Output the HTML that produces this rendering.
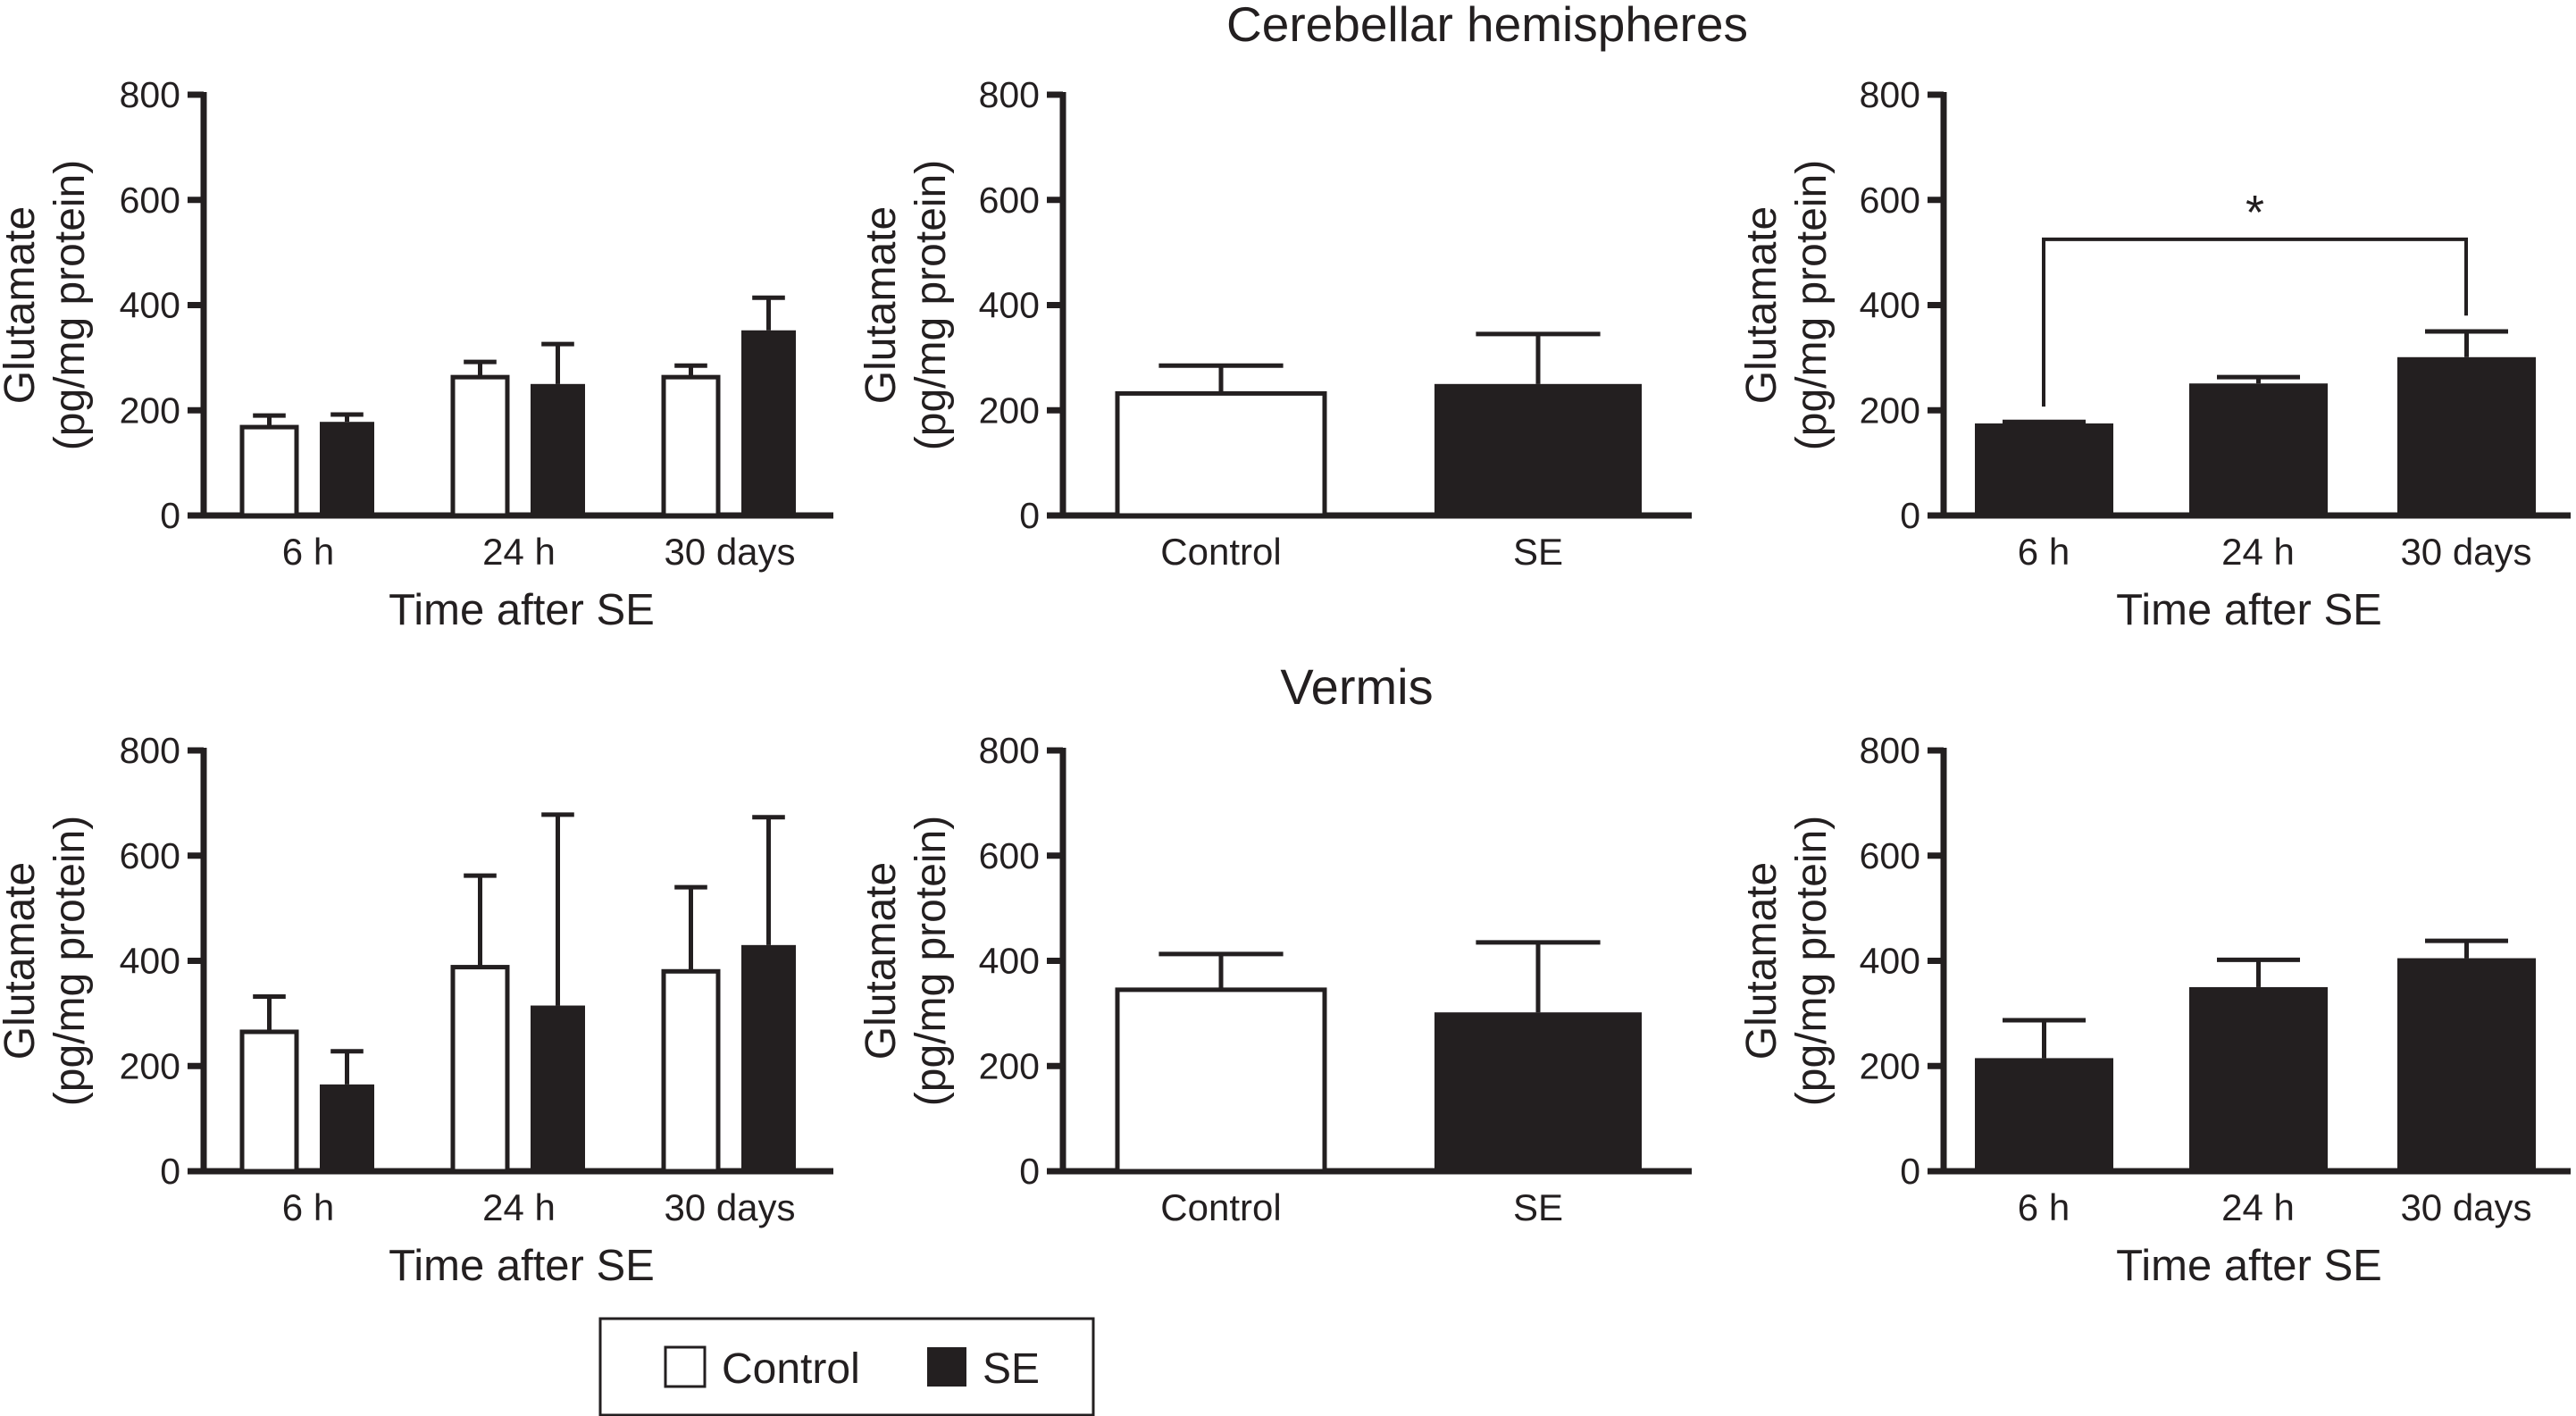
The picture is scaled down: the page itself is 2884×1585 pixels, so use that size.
<!DOCTYPE html>
<html><head><meta charset="utf-8"><style>
html,body{margin:0;padding:0;background:#fff;}
svg{display:block;}
text{fill:#231f20;}
</style></head><body>
<svg id="c" width="2884" height="1585" viewBox="0 0 2884 1585" xmlns="http://www.w3.org/2000/svg">
<text x="1665" y="46" font-family="Liberation Sans, sans-serif" font-size="55" text-anchor="middle">Cerebellar hemispheres</text>
<text x="1519" y="788" font-family="Liberation Sans, sans-serif" font-size="56" text-anchor="middle">Vermis</text>
<g>
<rect x="672" y="1476" width="552" height="108" fill="none" stroke="#231f20" stroke-width="3"/>
<rect x="745" y="1508" width="44" height="44" fill="#fff" stroke="#231f20" stroke-width="3"/>
<text x="808" y="1548" font-family="Liberation Sans, sans-serif" font-size="48">Control</text>
<rect x="1038" y="1508" width="44" height="44" fill="#231f20"/>
<text x="1100" y="1548" font-family="Liberation Sans, sans-serif" font-size="48">SE</text>
</g>
</svg>
<script>
const yTicks = [0, 200, 400, 600, 800];
const timeCats = ["6 h", "24 h", "30 days"];
const groupCats = ["Control", "SE"];
// Top row
const hemiTimeControl = [168, 263, 263];
const hemiTimeControlErr = [190, 292, 285];
const hemiTimeSE = [178, 250, 352];
const hemiTimeSEErr = [192, 326, 414];
const hemiGroupVals = [232, 250];
const hemiGroupErr = [285, 345];
const hemiPooled = [175, 251, 301];
const hemiPooledErr = [178, 263, 350];
// Bottom row
const vermTimeControl = [265, 388, 380];
const vermTimeControlErr = [332, 562, 540];
const vermTimeSE = [165, 315, 430];
const vermTimeSEErr = [228, 678, 673];
const vermGroupVals = [345, 302];
const vermGroupErr = [413, 435];
const vermPooled = [215, 350, 405];
const vermPooledErr = [287, 402, 438];
// significance bracket (top right): from 6 h to 30 days
const sigLevel = 525, sigLeftEnd = 207, sigRightEnd = 380;

const svg = document.getElementById('c');
const NS = 'http://www.w3.org/2000/svg';
const INK = '#231f20';
function mk(tag, attrs, parent) {
  const e = document.createElementNS(NS, tag);
  for (const k in attrs) e.setAttribute(k, attrs[k]);
  (parent || svg).appendChild(e);
  return e;
}
function panel(name, ax, x1, y0, yTop, labelX) {
  const g = mk('g', {});
  
  
  const yScale = v => y0 - (v / 800) * (y0 - yTop);
  const ya = mk('line', {x1: ax, y1: yTop - 3, x2: ax, y2: y0 + 3, stroke: INK, 'stroke-width': 7}, g);
  
  
  const xa = mk('line', {x1: ax - 18, y1: y0, x2: x1, y2: y0, stroke: INK, 'stroke-width': 7}, g);
  
  
  yTicks.forEach(t => {
    const y = yScale(t);
    const tk = mk('line', {x1: ax - 18, y1: y, x2: ax, y2: y, stroke: INK, 'stroke-width': 7}, g);
    
    
    const tl = mk('text', {x: ax - 26, y: y + 14, 'font-family': 'Liberation Sans Narrow, Liberation Sans, sans-serif', 'font-size': 41, 'text-anchor': 'end'}, g);
    tl.textContent = t;
    
    
  });
  const cy = (y0 + yTop) / 2;
  const l1 = mk('text', {x: 0, y: 0, transform: `translate(${labelX - 2},${cy}) rotate(-90)`, 'font-family': 'Liberation Sans, sans-serif', 'font-size': 48, 'text-anchor': 'middle'}, g);
  l1.textContent = 'Glutamate';
  
  
  const l2 = mk('text', {x: 0, y: 0, transform: `translate(${labelX + 54},${cy}) rotate(-90)`, 'font-family': 'Liberation Sans, sans-serif', 'font-size': 48, 'text-anchor': 'middle'}, g);
  l2.textContent = '(pg/mg protein)';
  
  
  return {g, yScale, y0};
}
function bar(p, x, w, v, err, filled, name) {
  const top = p.yScale(v);
  const eTop = p.yScale(err);
  const cx = x + w / 2;
  const el = mk('line', {x1: cx, y1: top, x2: cx, y2: eTop, stroke: INK, 'stroke-width': 5}, p.g);
  
  
  const cap = mk('line', {x1: cx - w * 0.3, y1: eTop, x2: cx + w * 0.3, y2: eTop, stroke: INK, 'stroke-width': 5}, p.g);
  
  
  const r = mk('rect', {x: x, y: top, width: w, height: p.y0 - top, fill: filled ? INK : '#fff', stroke: INK, 'stroke-width': filled ? 0 : 5}, p.g);
  
  
}
function xLabel(p, x, y, txt, size, name) {
  const t = mk('text', {x: x, y: y, 'font-family': 'Liberation Sans Narrow, Liberation Sans, sans-serif', 'font-size': size, 'text-anchor': 'middle'}, p.g);
  t.textContent = txt;
  
  
}
function timePanel(name, ax, y0, yTop, labelX, c, ce, s, se) {
  const p = panel(name, ax, 933, y0, yTop, labelX);
  const bw = 61;
  timeCats.forEach((cat, i) => {
    const gx = 271 + i * 236;
    bar(p, gx, bw, c[i], ce[i], false, 'bar-control-' + i);
    bar(p, gx + 87, bw, s[i], se[i], true, 'bar-se-' + i);
    xLabel(p, gx + 74, y0 + 55, cat, 42, 'x-tick-label');
  });
  xLabel(p, 584, y0 + 122, 'Time after SE', 49, 'x-axis-title');
  return p;
}
function groupPanel(name, y0, yTop, vals, errs) {
  const p = panel(name, 1190, 1894, y0, yTop, 1004);
  const xs = [1251, 1606];
  groupCats.forEach((cat, i) => {
    bar(p, xs[i], 232, vals[i], errs[i], i === 1, 'bar-' + cat.toLowerCase());
    xLabel(p, xs[i] + 116, y0 + 55, cat, 42, 'x-tick-label');
  });
  return p;
}
function pooledPanel(name, y0, yTop, vals, errs) {
  const p = panel(name, 2176, 2878, y0, yTop, 1990);
  const xs = [2211, 2451, 2684];
  timeCats.forEach((cat, i) => {
    bar(p, xs[i], 155, vals[i], errs[i], true, 'bar-se-' + i);
    xLabel(p, xs[i] + 77, y0 + 55, cat, 42, 'x-tick-label');
  });
  xLabel(p, 2518, y0 + 122, 'Time after SE', 49, 'x-axis-title');
  return {p, xs};
}
timePanel('hemispheres-time-panel', 228, 577, 106, 40, hemiTimeControl, hemiTimeControlErr, hemiTimeSE, hemiTimeSEErr);
groupPanel('hemispheres-group-panel', 577, 106, hemiGroupVals, hemiGroupErr);
const hp = pooledPanel('hemispheres-pooled-panel', 577, 106, hemiPooled, hemiPooledErr);
{
  const p = hp.p;
  const lx = hp.xs[0] + 77, rx = hp.xs[2] + 77;
  const yl = p.yScale(sigLevel);
  const br = mk('path', {d: `M${lx},${p.yScale(sigLeftEnd)} V${yl} H${rx} V${p.yScale(sigRightEnd)}`, fill: 'none', stroke: INK, 'stroke-width': 4}, p.g);
  
  
  const st = mk('text', {x: (lx + rx) / 2, y: yl - 12, 'font-family': 'Liberation Sans, sans-serif', 'font-size': 54, 'text-anchor': 'middle'}, p.g);
  st.textContent = '*';
  
  
}
timePanel('vermis-time-panel', 228, 1311, 840, 40, vermTimeControl, vermTimeControlErr, vermTimeSE, vermTimeSEErr);
groupPanel('vermis-group-panel', 1311, 840, vermGroupVals, vermGroupErr);
pooledPanel('vermis-pooled-panel', 1311, 840, vermPooled, vermPooledErr);
</script>
</body></html>
